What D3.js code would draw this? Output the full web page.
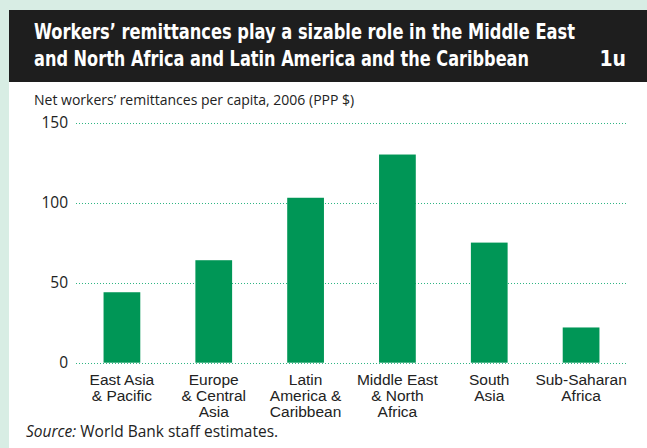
<!DOCTYPE html>
<html><head><meta charset="utf-8">
<script src="https://cdn.jsdelivr.net/npm/d3@7"></script>
<style>
html,body{margin:0;padding:0;background:#fff;}
svg{display:block;}
</style></head>
<body>
<svg id="chart" width="647" height="448"></svg>
<script>
const categories = [
  ["East Asia", "& Pacific"],
  ["Europe", "& Central", "Asia"],
  ["Latin", "America &", "Caribbean"],
  ["Middle East", "& North", "Africa"],
  ["South", "Asia"],
  ["Sub-Saharan", "Africa"]
];
const values = [44, 64, 103, 130, 75, 22];
const yTicks = [0, 50, 100, 150];
const titleLines = [
  "Workers\u2019 remittances play a sizable role in the Middle East",
  "and North Africa and Latin America and the Caribbean"
];
const subtitle = "Net workers\u2019 remittances per capita, 2006 (PPP $)";

const svg = d3.select("#chart");
const W = 647, H = 448;

// backgrounds
svg.append("rect").attr("x",0).attr("y",0).attr("width",W).attr("height",H).attr("fill","#d8ede4");
svg.append("rect").attr("x",9).attr("y",10).attr("width",W-9).attr("height",H-10).attr("fill","#fff");
svg.append("rect").attr("x",9).attr("y",10).attr("width",W-9).attr("height",72).attr("fill","#1e1e1e");

const titleFont = "'Liberation Sans Narrow','DejaVu Sans Condensed','Roboto',sans-serif";
const tg = svg.append("g");
tg.append("text").attr("x",34).attr("y",39).attr("fill","#fff")
  .attr("font-family",titleFont).attr("font-weight","bold").attr("font-size",20.5)
  .attr("textLength",541).attr("lengthAdjust","spacingAndGlyphs").text(titleLines[0]);
tg.append("text").attr("x",34).attr("y",66).attr("fill","#fff")
  .attr("font-family",titleFont).attr("font-weight","bold").attr("font-size",20.5)
  .attr("textLength",495).attr("lengthAdjust","spacingAndGlyphs").text(titleLines[1]);
tg.append("text").attr("x",626).attr("y",66).attr("fill","#fff").attr("text-anchor","end")
  .attr("font-family",titleFont).attr("font-weight","bold").attr("font-size",21).text("1u");

const bodyFont = "'Open Sans','Liberation Sans',sans-serif";
const labelFont = "'Liberation Sans','Arial',sans-serif";
svg.append("text").attr("x",34).attr("y",105).attr("fill","#222")
  .attr("font-family",bodyFont).attr("font-size",14).text(subtitle);

const x = d3.scaleBand().domain(d3.range(categories.length)).range([76,627])
  .paddingInner(0.6).paddingOuter(0.3);
const y = d3.scaleLinear().domain([0,150]).range([362.7,122.5]);

// grid
const grid = svg.append("g");
grid.selectAll("line").data(yTicks).join("line")
  .attr("x1",76).attr("x2",627)
  .attr("y1",d=>Math.round(y(d))+0.5).attr("y2",d=>Math.round(y(d))+0.5)
  .attr("stroke","#2fb583").attr("stroke-width",1).attr("stroke-dasharray","1,2");

// y axis labels
const yAxis = d3.axisLeft(y).tickValues(yTicks).tickSize(0).tickPadding(0);
const ya = svg.append("g").attr("transform","translate(68,0)").call(yAxis);
ya.select(".domain").remove();
ya.selectAll("text").attr("font-family",bodyFont).attr("font-size",15.5).attr("fill","#222");

// bars
svg.append("g").selectAll("rect").data(values).join("rect")
  .attr("x",(d,i)=>x(i)).attr("width",x.bandwidth())
  .attr("y",d=>y(d)).attr("height",d=>y(0)-y(d))
  .attr("fill","#009656");

// x labels (one text element per line)
const xl = svg.append("g");
categories.forEach((lines,i)=>{
  lines.forEach((l,j)=>{
    xl.append("text").attr("x",x(i)+x.bandwidth()/2).attr("y",385+16*j)
      .attr("text-anchor","middle").attr("font-family",labelFont).attr("font-size",15.5)
      .attr("fill","#222").text(l);
  });
});

// source
const src = svg.append("text").attr("x",26).attr("y",437).attr("font-family",bodyFont)
  .attr("font-size",15.5).attr("fill","#222");
src.append("tspan").attr("font-style","italic").text("Source:");
src.append("tspan").text(" World Bank staff estimates.");
</script>
</body></html>
